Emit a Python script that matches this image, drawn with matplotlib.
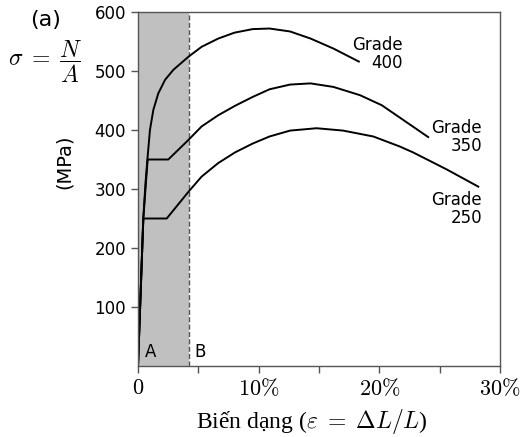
import matplotlib
matplotlib.use('Agg')
import matplotlib.pyplot as plt

plt.rcParams['mathtext.fontset'] = 'cm'
plt.rcParams['font.family'] = 'DejaVu Sans'

# Biến dạng (%) và ứng suất (MPa)
eps_400 = [0, 0.44, 0.62, 0.80, 0.99, 1.27, 1.68, 2.24, 2.93, 4.17, 5.27, 6.65, 8.0,
           9.5, 10.9, 12.6, 14.3, 16.2, 18.3]
sig_400 = [0, 250, 310, 355, 400, 434, 462, 485, 502, 524, 541, 555, 565,
           571, 572, 567, 555, 538, 516]

eps_350 = [0, 0.44, 0.80, 2.51, 4.17, 5.27, 6.65, 8.04, 9.5, 10.9, 12.6, 14.3, 16.2,
           18.4, 20.2, 21.7, 24.05]
sig_350 = [0, 250, 350, 350, 383, 406, 425, 441, 456, 469, 477, 479, 473,
           459, 442, 421, 388]

eps_250 = [0, 0.44, 2.38, 4.17, 5.27, 6.65, 8.04, 9.5, 10.9, 12.6, 14.8, 17.0, 19.5,
           21.7, 22.8, 25.6, 28.2]
sig_250 = [0, 250, 250, 295, 321, 344, 362, 377, 389, 399, 403, 399, 389,
           372, 362, 333, 304]

vung_A = 4.2  # ranh giới vùng A / B
xticks = [0, 5, 10, 15, 20, 25, 30]
xlabels = ['$0$', '', r'$10\%$', '', r'$20\%$', '', r'$30\%$']
yticks = [100, 200, 300, 400, 500, 600]

fig = plt.figure(figsize=(5.25, 4.37), dpi=100)
ax = fig.add_axes([138 / 525, 1 - 366 / 437, 362 / 525, 354 / 437])

ax.axvspan(0, vung_A, color='#c0c0c0', lw=0)
ax.axvline(vung_A, color='#555555', ls='--', lw=1)

for e, s in [(eps_400, sig_400), (eps_350, sig_350), (eps_250, sig_250)]:
    ax.plot(e, s, color='black', lw=1.4, solid_joinstyle='round')

ax.set_xlim(0, 30)
ax.set_ylim(0, 600)
ax.set_xticks(xticks)
ax.set_xticklabels(xlabels, fontsize=16)
ax.set_yticks(yticks)
ax.set_yticklabels([str(v) for v in yticks], fontsize=12)
ax.tick_params(colors='#555555', labelcolor='black', length=5, width=1)
for sp in ax.spines.values():
    sp.set_color('#555555')
    sp.set_linewidth(1)

ax.text(21.9, 529, 'Grade\n400', ha='right', va='center', fontsize=12, linespacing=1.0)
ax.text(28.5, 388, 'Grade\n350', ha='right', va='center', fontsize=12, linespacing=1.0)
ax.text(28.5, 266, 'Grade\n250', ha='right', va='center', fontsize=12, linespacing=1.0)
ax.text(0.58, 8, 'A', ha='left', va='bottom', fontsize=12)
ax.text(4.7, 8, 'B', ha='left', va='bottom', fontsize=12)

ax.set_xlabel(r'Biến dạng ($\varepsilon\;=\;\Delta L/L$)', fontsize=17,
              fontfamily='Liberation Serif')
ax.xaxis.set_label_coords(0.48, -0.115)

fig.text(45 / 525, 1 - 62 / 437, r'$\sigma\;=\;\dfrac{N}{A}$', fontsize=17, ha='center', va='center')
fig.text(64 / 525, 1 - 162 / 437, '(MPa)', fontsize=14, rotation=90, ha='center', va='center')
fig.text(30 / 525, 1 - 20 / 437, '(a)', fontsize=16, ha='left', va='center')

fig.savefig('out.png', dpi=100)
